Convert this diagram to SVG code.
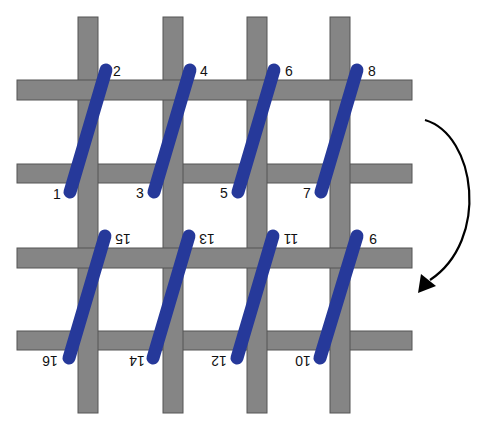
<svg xmlns="http://www.w3.org/2000/svg" width="480" height="424" viewBox="0 0 480 424">
<style>
.bar{fill:#858585;stroke:#555;stroke-width:1}
.st{stroke:#26399a;stroke-width:13;stroke-linecap:round;fill:none}
.lb{font-family:"Liberation Sans",Arial,sans-serif;font-size:14px;fill:#111;text-anchor:middle}
</style>
<rect width="480" height="424" fill="#fff"/>
<g id="grid">
<rect class="bar" x="17" y="164" width="395" height="19"/>
<rect class="bar" x="17" y="331" width="395" height="19"/>
<rect class="bar" x="78" y="17" width="20" height="396"/>
<rect class="bar" x="163" y="17" width="20" height="396"/>
<rect class="bar" x="247" y="17" width="20" height="396"/>
<rect class="bar" x="330" y="17" width="20" height="396"/>
<rect class="bar" x="17" y="80" width="395" height="20"/>
<rect class="bar" x="17" y="248" width="395" height="20"/>
</g>
<g id="stitches">
<line class="st" x1="70" y1="192" x2="106" y2="70"/>
<line class="st" x1="154" y1="192" x2="190" y2="70"/>
<line class="st" x1="238" y1="192" x2="274" y2="70"/>
<line class="st" x1="321" y1="192" x2="357" y2="70"/>
<line class="st" x1="69" y1="358" x2="105" y2="236"/>
<line class="st" x1="153" y1="358" x2="189" y2="236"/>
<line class="st" x1="237" y1="358" x2="273" y2="236"/>
<line class="st" x1="320" y1="358" x2="357" y2="236"/>
</g>
<g id="labels">
<text class="lb" x="117" y="76">2</text>
<text class="lb" x="204" y="76">4</text>
<text class="lb" x="289" y="76">6</text>
<text class="lb" x="372" y="76">8</text>
<text class="lb" x="57" y="199">1</text>
<text class="lb" x="140" y="198">3</text>
<text class="lb" x="224" y="198">5</text>
<text class="lb" x="307" y="198">7</text>
<text class="lb" x="123" y="244" transform="rotate(180 123 239)">15</text>
<text class="lb" x="207" y="244" transform="rotate(180 207 239)">13</text>
<text class="lb" x="291" y="244" transform="rotate(180 291 239)">11</text>
<text class="lb" x="373" y="244" transform="rotate(180 373 239)">9</text>
<text class="lb" x="50" y="366" transform="rotate(180 50 361)">16</text>
<text class="lb" x="137" y="366" transform="rotate(180 137 361)">14</text>
<text class="lb" x="219" y="366" transform="rotate(180 219 361)">12</text>
<text class="lb" x="303" y="366" transform="rotate(180 303 361)">10</text>
</g>
<g id="connectors">
<path d="M425,120 C476,135 490,240 430,280" fill="none" stroke="#000" stroke-width="2.2"/>
<polygon points="418,293 421,274 436,286" fill="#000"/>
</g>
</svg>
